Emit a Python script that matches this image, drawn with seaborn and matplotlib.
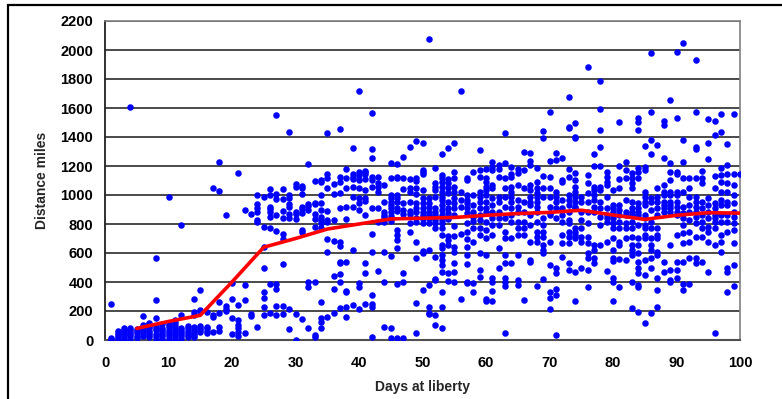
import matplotlib
matplotlib.use("Agg")
import matplotlib.pyplot as plt
import seaborn as sns
import pandas as pd
from matplotlib.patches import Rectangle

# ---- scatter data: days at liberty -> distances (miles) ----
days_01_10 = {
    1: [0, 5, 12, 250],
    2: [5, 20, 35, 50, 65],
    3: [10, 25, 40, 55, 70, 80],
    4: [10, 25, 40, 55, 70, 85, 1610],
    5: [15, 30, 45, 60, 75],
    6: [30, 45, 60, 75, 90, 105, 165],
    7: [20, 35, 50, 65, 80, 95, 110, 120],
    8: [10, 25, 40, 70, 85, 95, 155, 275, 565],
    9: [10, 25, 40, 55, 70, 85, 110],
    10: [10, 25, 40, 55, 70, 90, 105, 120, 985],
}
days_11_20 = {
    11: [10, 25, 40, 60, 80, 100, 115, 135],
    12: [10, 25, 40, 55, 70, 85, 175, 795],
    13: [20, 35, 50, 65, 80, 95],
    14: [20, 35, 50, 70, 90, 170, 190, 285],
    15: [55, 70, 85, 100, 200, 210, 345],
    16: [50, 65, 80, 90, 195],
    17: [55, 160, 175, 1045],
    18: [65, 90, 185, 265, 1025, 1230],
    19: [200, 215, 235, 860],
    20: [40, 155, 280, 395],
}
days_21_30 = {
    21: [30, 55, 80, 105, 140, 240, 1150],
    22: [45, 275, 380, 900],
    23: [165, 180, 870],
    24: [88, 815, 830, 885, 910, 940, 1000],
    25: [175, 228, 290, 331, 494, 644, 782, 986],
    26: [188, 386, 775, 850, 880, 903, 920, 1002, 1039],
    27: [170, 237, 352, 388, 750, 862, 972, 1007, 1554],
    28: [182, 234, 524, 697, 729, 839, 892, 975, 1039],
    29: [76, 211, 844, 871, 920, 938, 977, 1000, 1437],
    30: [0, 177, 837, 867, 883, 1057, 1073],
}
days_31_40 = {
    31: [145, 743, 759, 876, 901, 915, 1007, 1046, 1064],
    32: [80, 368, 398, 894, 922, 940, 1211],
    33: [23, 34, 398, 782, 832, 869, 936, 943, 1099],
    34: [85, 126, 149, 264, 770, 805, 828, 851, 897, 947, 1000, 1092, 1103],
    35: [161, 605, 697, 811, 828, 890, 1046, 1115, 1143, 1425],
    36: [188, 349, 439, 683, 828, 1007, 1078],
    37: [223, 402, 457, 529, 540, 651, 678, 908, 1014, 1092, 1126, 1457],
    38: [156, 228, 329, 340, 536, 834, 917, 1046, 1120, 1177],
    39: [241, 621, 920, 989, 1057, 1108, 1126, 1143, 1322],
    40: [214, 368, 391, 897, 943, 977, 1046, 1103, 1138, 1156, 1717],
}
days_41_50 = {
    41: [246, 464, 529, 862, 959, 977, 1034, 1108, 1143, 1156, 1166],
    42: [23, 230, 246, 310, 609, 729, 908, 1057, 1103, 1126, 1253, 1315, 1563],
    43: [478, 816, 913, 1023, 1057, 1080, 1126],
    44: [92, 402, 609, 816, 851, 862, 885, 954, 1069],
    45: [16, 80, 582, 821, 857, 885, 908, 931, 949, 977, 1000, 1115, 1218],
    46: [16, 384, 632, 690, 724, 759, 890, 913, 954, 982, 1000, 1115, 1126, 1214],
    47: [11, 402, 460, 867, 897, 943, 1041, 1115, 1260],
    48: [743, 805, 867, 890, 954, 1023, 1046, 1110, 1333],
    49: [46, 253, 563, 674, 816, 844, 885, 913, 947, 1005, 1046, 1097, 1115, 1372],
    50: [345, 598, 614, 805, 834, 862, 885, 913, 943, 982, 1034, 1143, 1161, 1172, 1356],
}
days_51_60 = {
    51: [179, 184, 230, 379, 621, 805, 839, 862, 885, 920, 943, 977, 2076],
    52: [103, 172, 414, 421, 575, 770, 805, 828, 862, 885, 908, 989, 1034, 1057, 1080, 1184],
    53: [80, 230, 333, 471, 517, 552, 586, 632, 655, 724, 770, 805, 828, 862, 897,
         931, 966, 989, 1023, 1057, 1092, 1115, 1138, 1281],
    54: [407, 464, 655, 690, 720, 834, 874, 913, 954, 1011, 1046, 1080, 1108, 1326],
    55: [402, 471, 529, 609, 644, 720, 789, 862, 908, 943, 982, 1023, 1057, 1115, 1161, 1356],
    56: [283, 729, 920, 966, 1023, 1717],
    57: [391, 402, 522, 586, 644, 697, 747, 805, 874, 908, 943, 966, 1000, 1103, 1115],
    58: [333, 391, 678, 770, 821, 851, 885, 931, 1000, 1161],
    59: [437, 483, 598, 724, 770, 828, 862, 908, 954, 989, 1023, 1126, 1172, 1310],
    60: [269, 283, 586, 701, 759, 816, 885, 908, 954, 1000, 1034, 1057, 1092, 1115, 1179],
}
days_61_70 = {
    61: [269, 338, 402, 425, 724, 793, 839, 885, 931, 977, 1046, 1069, 1172, 1195, 1230],
    62: [499, 632, 793, 839, 885, 954, 989, 1126, 1179, 1207],
    63: [46, 375, 402, 425, 529, 586, 701, 747, 839, 920, 989, 1046, 1115, 1223, 1430],
    64: [529, 701, 816, 862, 908, 954, 989, 1023, 1057, 1126, 1143, 1195],
    65: [379, 414, 586, 724, 770, 816, 885, 920, 966, 1069, 1149, 1177],
    66: [276, 724, 770, 816, 885, 954, 1046, 1172, 1294],
    67: [536, 552, 678, 793, 862, 931, 954, 989, 1034, 1069, 1207, 1237, 1287],
    68: [375, 678, 713, 747, 816, 885, 920, 954, 989, 1011, 1046, 1092, 1189],
    69: [418, 598, 621, 655, 713, 747, 793, 839, 989, 1051, 1131, 1391, 1441],
    70: [211, 287, 333, 517, 678, 862, 874, 920, 989, 1046, 1126, 1237, 1575],
}
days_71_80 = {
    71: [34, 310, 352, 460, 494, 839, 908, 954, 989, 1023, 1241, 1287],
    72: [575, 667, 724, 816, 862, 908, 966, 1092, 1103, 1253],
    73: [483, 529, 667, 713, 747, 805, 828, 885, 931, 966, 1000, 1126, 1179, 1460, 1471, 1678],
    74: [269, 471, 701, 724, 747, 770, 908, 920, 954, 989, 1023, 1057, 1103, 1149, 1391, 1402, 1494],
    75: [494, 678, 713, 770, 828, 885, 954, 989],
    76: [368, 483, 563, 598, 667, 713, 805, 885, 954, 1011, 1080, 1138, 1885],
    77: [529, 563, 621, 655, 885, 920, 966, 1000, 1034, 1057, 1202, 1280],
    78: [655, 793, 851, 908, 954, 1034, 1057, 1202, 1333, 1448, 1593, 1789],
    79: [476, 678, 816, 839, 862, 908, 989, 1069, 1092, 1126, 1161],
    80: [269, 402, 425, 545, 563, 621, 701, 770, 805, 839, 862, 885, 908, 931, 1034],
}
days_81_90 = {
    81: [368, 559, 655, 678, 770, 816, 862, 897, 931, 1046, 1108, 1202, 1506],
    82: [552, 701, 770, 805, 862, 885, 966, 1120, 1172, 1230],
    83: [223, 402, 586, 621, 655, 713, 770, 816, 862, 885, 908, 954, 1046, 1080, 1115, 1149],
    84: [195, 368, 379, 460, 494, 540, 598, 655, 701, 793, 862, 885, 908, 943, 1115, 1161,
         1184, 1448, 1506, 1529],
    85: [115, 448, 552, 701, 724, 770, 793, 839, 862, 931, 954, 989, 1023, 1172, 1195, 1340],
    86: [184, 494, 563, 621, 655, 701, 770, 816, 897, 954, 982, 1280, 1379, 1575, 1977],
    87: [230, 345, 425, 586, 609, 701, 724, 770, 862, 908, 954, 989, 1046, 1345],
    88: [471, 540, 885, 908, 931, 954, 1000, 1023, 1069, 1257, 1483, 1510],
    89: [402, 414, 483, 655, 885, 908, 931, 954, 1000, 1023, 1103, 1161, 1218, 1655],
    90: [425, 483, 540, 724, 862, 885, 920, 954, 1000, 1023, 1143, 1156, 1529, 1989],
}
days_91_100 = {
    91: [345, 384, 540, 667, 736, 793, 839, 874, 920, 1023, 1115, 1230, 1377, 2048],
    92: [384, 563, 678, 747, 828, 885, 931, 989, 1046, 1115],
    93: [529, 563, 713, 805, 851, 885, 920, 954, 989, 1115, 1317, 1333, 1570, 1931],
    94: [540, 713, 770, 816, 862, 908, 954, 1080, 1115, 1166],
    95: [467, 678, 747, 782, 839, 885, 931, 982, 1246, 1361, 1522],
    96: [46, 655, 770, 816, 839, 862, 908, 943, 1046, 1133, 1414, 1510],
    97: [609, 678, 724, 816, 862, 931, 966, 1023, 1092, 1138, 1184, 1437, 1556],
    98: [333, 471, 494, 747, 816, 862, 931, 954, 1023, 1080, 1143, 1207, 1349],
    99: [375, 517, 667, 759, 805, 851, 885, 943, 1000, 1069, 1143, 1556],
    100: [1147],
}

# ---- red trend line ----
line_days = [5, 10, 15, 20, 25, 30, 35, 40, 45, 50, 55, 60, 65, 70, 75, 80, 85, 90, 95, 100]
line_miles = [80, 128, 170, 400, 640, 700, 765, 800, 835, 840, 845, 860, 872, 880, 895, 862, 832, 860, 878, 875]

y_ticks = [0, 200, 400, 600, 800, 1000, 1200, 1400, 1600, 1800, 2000, 2200]
x_ticks = [0, 10, 20, 30, 40, 50, 60, 70, 80, 90, 100]

rows = []
for block in (days_01_10, days_11_20, days_21_30, days_31_40, days_41_50,
              days_51_60, days_61_70, days_71_80, days_81_90, days_91_100):
    for d, vals in block.items():
        for v in vals:
            rows.append((d, v))
scatter_df = pd.DataFrame(rows, columns=["days", "miles"])
line_df = pd.DataFrame({"days": line_days, "miles": line_miles})

sns.set_theme(style="white")
plt.rcParams["font.family"] = ["Liberation Sans", "DejaVu Sans"]
plt.rcParams["font.weight"] = "bold"

fig = plt.figure(figsize=(7.82, 3.99), dpi=100)
ax = fig.add_axes([105 / 782, 59 / 399, 635 / 782, 319 / 399])

ax.set_axisbelow(True)
ax.yaxis.grid(True, color="#4a4a4a", linewidth=1.4)
ax.xaxis.grid(False)

sns.scatterplot(data=scatter_df, x="days", y="miles", ax=ax, color="#0000FF",
                s=22, linewidth=0, zorder=3)
sns.lineplot(data=line_df, x="days", y="miles", ax=ax, color="#FF0000",
             linewidth=2.6, zorder=4)

ax.set_xlim(0, 100)
ax.set_ylim(0, 2200)
ax.set_xticks(x_ticks)
ax.set_yticks(y_ticks)
ax.set_xticklabels([str(t) for t in x_ticks], fontsize=10.5, fontweight="bold")
ax.set_yticklabels([str(t) for t in y_ticks], fontsize=10.5, fontweight="bold")
ax.tick_params(axis="y", which="major", direction="out", length=3.5, width=1,
               color="#404040", labelcolor="black", pad=5)
ax.tick_params(axis="x", which="major", direction="out", length=3.5, width=1,
               color="#404040", labelcolor="black", pad=8)

ax.set_xlabel("Days at liberty", fontsize=10, fontweight="bold", labelpad=7)
ax.set_ylabel("Distance miles", fontsize=10, fontweight="bold", labelpad=8)

for side in ["top", "right"]:
    ax.spines[side].set_visible(True)
    ax.spines[side].set_color("#808080")
    ax.spines[side].set_linewidth(1.2)
ax.spines["left"].set_color("#202020")
ax.spines["left"].set_linewidth(1.3)
ax.spines["bottom"].set_color("#505050")
ax.spines["bottom"].set_linewidth(1.5)

# outer frame of the chart area
fig.patches.append(Rectangle((8 / 782, -0.05), 1.1, (399 - 5) / 399 + 0.05,
                             transform=fig.transFigure, fill=False,
                             edgecolor="black", linewidth=1.6))

fig.savefig("out.png", dpi=100)
